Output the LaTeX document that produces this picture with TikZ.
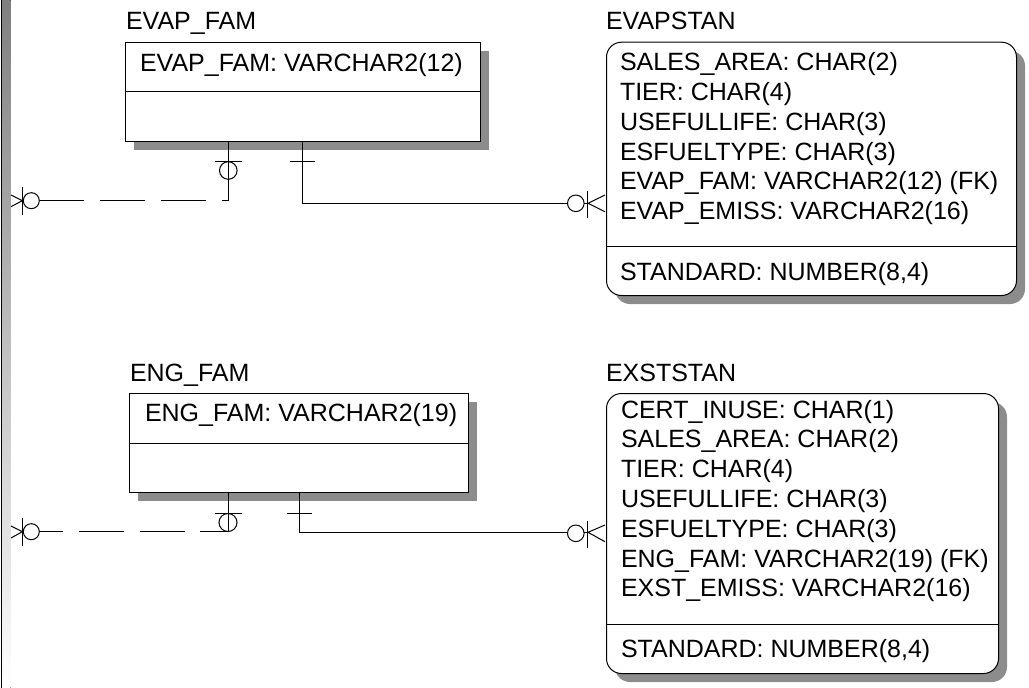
\documentclass[tikz,border=0pt]{standalone}
\usepackage{fontspec}
\setmainfont{Liberation Sans}
\usetikzlibrary{calc}
\definecolor{shade}{RGB}{140,140,140}
\tikzset{
  txt/.style={anchor=base west,inner sep=0pt,outer sep=0pt,font=\fontsize{25}{30}\selectfont},
  ebox/.style={draw=black,fill=white,line width=1pt},
  shd/.style={fill=shade,draw=none},
  conn/.style={draw=black,line width=1pt},
  sym/.style={draw=black,line width=1pt},
  dashconnA/.style={conn,dash pattern=on 45pt off 16pt,dash phase=39pt},
  dashconnB/.style={conn,dash pattern=on 45pt off 15.7pt,dash phase=17pt},
}
\begin{document}
\begin{tikzpicture}[x=1pt,y=-1pt]
\useasboundingbox (0,0) rectangle (1029,688);
% left off-screen entity edge
\fill[shade] (2,0) rectangle (10.5,688);
\draw[black,line width=1.2pt] (1.4,0) -- (1.4,688);

% ---------- shadows ----------
\fill[shd] (134,50.7) rectangle (489,150);
\fill[shd] (138.3,402.3) rectangle (477.3,500.7);
\fill[shd,rounded corners=15pt] (615,50.7) rectangle (1025,304);
\fill[shd,rounded corners=15pt] (615,402) rectangle (1007,682);

% ---------- entity boxes ----------
\node[ebox,anchor=north west,minimum width=355pt,minimum height=99.3pt,inner sep=0pt] (evapfam) at (125,41.7) {};
\draw[line width=1pt] (125,91.7) -- (480,91.7);
\node[ebox,anchor=north west,minimum width=339pt,minimum height=98.4pt,inner sep=0pt] (engfam) at (129.3,393.3) {};
\draw[line width=1pt] (129.3,443.3) -- (468.3,443.3);
\node[ebox,rounded corners=15pt,anchor=north west,minimum width=410pt,minimum height=253.3pt,inner sep=0pt] (evapstan) at (606,41.7) {};
\draw[line width=1pt] (606,246.7) -- (1016,246.7);
\node[ebox,rounded corners=15pt,anchor=north west,minimum width=392pt,minimum height=280pt,inner sep=0pt] (exststan) at (606,393) {};
\draw[line width=1pt] (606,624) -- (998,624);

% ---------- titles and attributes ----------
\node[txt] (t1) at (126,30) {EVAP\_FAM};
\node[txt] (a1) at (140,71.7) {EVAP\_FAM: VARCHAR2(12)};
\node[txt] (t2) at (606,30) {EVAPSTAN};
\node[txt] (b1) at (620,70.7) {SALES\_AREA: CHAR(2)};
\node[txt] (b2) at (620,100.5) {TIER: CHAR(4)};
\node[txt] (b3) at (620,130.3) {USEFULLIFE: CHAR(3)};
\node[txt] (b4) at (620,160.1) {ESFUELTYPE: CHAR(3)};
\node[txt] (b5) at (620,189.9) {EVAP\_FAM: VARCHAR2(12) (FK)};
\node[txt] (b6) at (620,219.7) {EVAP\_EMISS: VARCHAR2(16)};
\node[txt] (b7) at (620,280) {STANDARD: NUMBER(8,4)};

\node[txt] (t3) at (130,381.7) {ENG\_FAM};
\node[txt] (a2) at (145,421.7) {ENG\_FAM: VARCHAR2(19)};
\node[txt] (t4) at (606,381) {EXSTSTAN};
\node[txt] (c1) at (621,418) {CERT\_INUSE: CHAR(1)};
\node[txt] (c2) at (621,447.8) {SALES\_AREA: CHAR(2)};
\node[txt] (c3) at (621,477.6) {TIER: CHAR(4)};
\node[txt] (c4) at (621,507.4) {USEFULLIFE: CHAR(3)};
\node[txt] (c5) at (621,537.2) {ESFUELTYPE: CHAR(3)};
\node[txt] (c6) at (621,567) {ENG\_FAM: VARCHAR2(19) (FK)};
\node[txt] (c7) at (621,596.8) {EXST\_EMISS: VARCHAR2(16)};
\node[txt] (c8) at (621,657) {STANDARD: NUMBER(8,4)};

% ---------- connector EVAP_FAM -> EVAPSTAN ----------
\coordinate (p1) at (302,141);
\coordinate (p1c) at (302,203.3);
\coordinate (p1e) at (588,203.3);
\draw[conn] (p1) -- (p1c) -- (p1e);
\draw[sym] (290,161.7) -- (315,161.7);
\draw[sym,fill=white] (575.8,203.3) circle (8.3pt);
\draw[sym] (587.3,190.7) -- (587.3,217.7);
\draw[sym] (605,195) -- (p1e) -- (605,211.7);

% ---------- dashed connector EVAP_FAM -> left ----------
\coordinate (q1) at (228.3,141);
\coordinate (q1c) at (228.3,200.7);
\coordinate (q1e) at (40,200.7);
\draw[conn] (q1) -- (q1c);
\draw[dashconnA] (q1c) -- (q1e);
\draw[sym] (215,161.7) -- (241.7,161.7);
\draw[sym] (228.3,170.5) circle (8.8pt);
\draw[sym,fill=white] (31.3,200.7) circle (8pt);
\draw[sym] (22.3,186.7) -- (22.3,215);
\draw[sym] (11,195) -- (22.3,200.7) -- (11,206.7);

% ---------- connector ENG_FAM -> EXSTSTAN ----------
\coordinate (p2) at (299,491.7);
\coordinate (p2c) at (299,532.3);
\coordinate (p2e) at (588,532.3);
\draw[conn] (p2) -- (p2c) -- (p2e);
\draw[sym] (286.7,513.3) -- (311.7,513.3);
\draw[sym,fill=white] (575.8,533.3) circle (8.3pt);
\draw[sym] (587,520.7) -- (587,547.7);
\draw[sym] (605,525) -- (p2e) -- (605,541.7);

% ---------- dashed connector ENG_FAM -> left ----------
\coordinate (q2) at (228.3,491.7);
\coordinate (q2c) at (228.3,531.7);
\coordinate (q2e) at (39.3,531.7);
\draw[conn] (q2) -- (q2c);
\draw[dashconnB] (q2c) -- (q2e);
\draw[sym] (215,513.3) -- (241.7,513.3);
\draw[sym] (228,522.5) circle (9pt);
\draw[sym,fill=white] (31.3,531.7) circle (8pt);
\draw[sym] (22.3,518) -- (22.3,546);
\draw[sym] (11,526) -- (22.3,531.7) -- (11,538);
\end{tikzpicture}
\end{document}
